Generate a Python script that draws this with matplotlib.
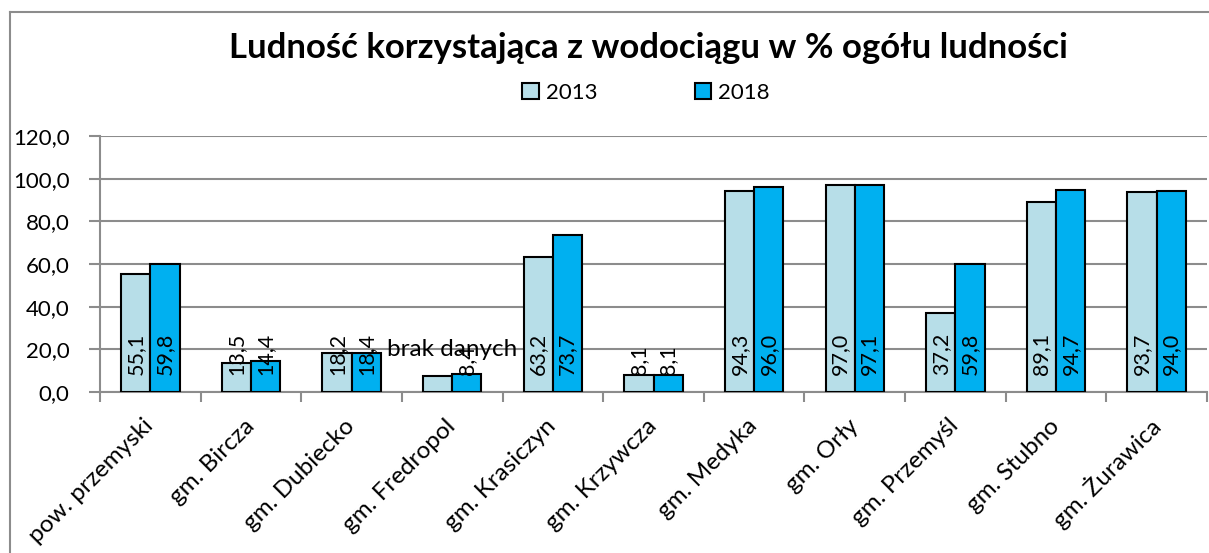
import numpy as np
import matplotlib.pyplot as plt
from matplotlib.lines import Line2D

plt.rcParams["font.family"] = ["Lato", "DejaVu Sans"]

categories = ["pow. przemyski", "gm. Bircza", "gm. Dubiecko", "gm. Fredropol",
              "gm. Krasiczyn", "gm. Krzywcza", "gm. Medyka", "gm. Orły",
              "gm. Przemyśl", "gm. Stubno", "gm. Żurawica"]
years = ["2013", "2018"]
values_2013 = [55.1, 13.5, 18.2, 7.3, 63.2, 8.1, 94.3, 97.0, 37.2, 89.1, 93.7]
values_2018 = [59.8, 14.4, 18.4, 8.4, 73.7, 8.1, 96.0, 97.1, 59.8, 94.7, 94.0]
labels_2013 = ["55,1", "13,5", "18,2", None, "63,2", "8,1", "94,3", "97,0", "37,2", "89,1", "93,7"]
labels_2018 = ["59,8", "14,4", "18,4", "8,4", "73,7", "8,1", "96,0", "97,1", "59,8", "94,7", "94,0"]
yticks = [0, 20, 40, 60, 80, 100, 120]
note_text = "brak danych"

W, H = 1209, 553
fig = plt.figure(figsize=(W / 100, H / 100), dpi=100)
ax = fig.add_axes([100 / W, 1 - 392 / H, 1107 / W, 256 / H])

x = np.arange(len(categories))
bw = 0.29
colors = ["#B7DEE8", "#00B0F0"]
for k, (vals, labs) in enumerate([(values_2013, labels_2013), (values_2018, labels_2018)]):
    pos = x + (k - 0.5) * bw
    ax.bar(pos, vals, width=bw, color=colors[k], edgecolor="black", linewidth=1.5,
           label=years[k], zorder=3)
    for p, lab in zip(pos, labs):
        if lab is not None:
            ax.text(p, 7.8, lab, rotation=90, ha="center", va="bottom",
                    fontsize=15.5, zorder=4)

ax.text(3, 20.0, note_text, ha="center", va="center", fontsize=17.5, zorder=5)

ax.set_xlim(-0.5, len(categories) - 0.5)
ax.set_ylim(0, 120)
ax.set_yticks(yticks)
ax.set_yticklabels([f"{v:.1f}".replace(".", ",") for v in yticks], fontsize=16)
ax.yaxis.grid(True, color="#8c8c8c", linewidth=1.5, zorder=0)
ax.set_axisbelow(True)

ax.set_xticks(np.arange(len(categories) + 1) - 0.5, minor=False)
ax.set_xticklabels([])
ax.set_xticks(x, minor=True)
ax.set_xticklabels(categories, minor=True, rotation=45, ha="right", va="center",
                   rotation_mode="anchor", fontsize=17.5)
ax.tick_params(axis="x", which="minor", length=0, pad=22)
ax.tick_params(axis="x", which="major", length=7, width=1.5, color="#8c8c8c")
ax.tick_params(axis="y", length=8, width=1.5, color="#8c8c8c", pad=14)

for s in ["top", "right"]:
    ax.spines[s].set_visible(False)
for s in ["left", "bottom"]:
    ax.spines[s].set_color("#8c8c8c")
    ax.spines[s].set_linewidth(1.5)

fig.text(648 / W, 1 - 48 / H, "Ludność korzystająca z wodociągu w % ogółu ludności",
         ha="center", va="center", fontsize=25, fontweight="bold")
fig.legend(loc="center", bbox_to_anchor=(646 / W, 1 - 93 / H), ncol=2,
           frameon=False, fontsize=16, handlelength=0.75, handleheight=0.75,
           handletextpad=0.3, columnspacing=4.4)

fig.add_artist(Line2D([10 / W, 10 / W], [0, 1 - 12 / H], transform=fig.transFigure,
                      color="#8c8c8c", linewidth=1.5))
fig.add_artist(Line2D([10 / W, 1], [1 - 12 / H, 1 - 12 / H], transform=fig.transFigure,
                      color="#8c8c8c", linewidth=1.5))

fig.savefig("out.png", dpi=100)
